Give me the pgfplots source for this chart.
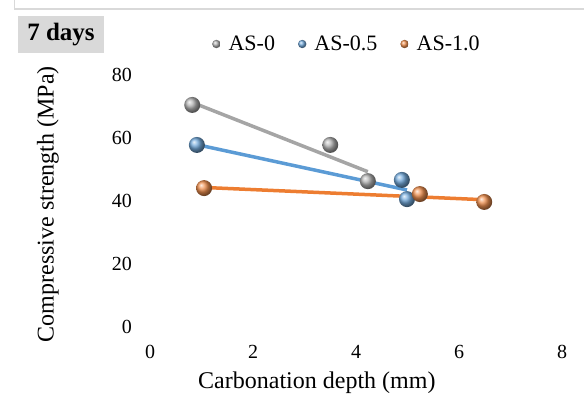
\documentclass[border=0pt]{standalone}
\usepackage{pgfplots}
\pgfplotsset{compat=1.18}
\usepackage{fontspec}
\setmainfont{Liberation Serif}
\definecolor{cgray}{HTML}{A5A5A5}
\definecolor{cblue}{HTML}{5B9BD5}
\definecolor{corange}{HTML}{ED7D31}
\definecolor{frame}{HTML}{D9D9D9}
\begin{document}
\begin{tikzpicture}[x=1bp,y=1bp]
\path[use as bounding box] (0,0) rectangle (584,398);
\draw[frame, line width=1.5bp] (14.5,398) -- (14.5,389) -- (584,389);
\fill[frame] (18,345) rectangle (104,382);
\node[font=\fontsize{25bp}{28bp}\selectfont\bfseries] at (61,363) {7 days};
\begin{axis}[
  at={(150bp,71bp)}, anchor=south west,
  scale only axis, width=412bp, height=252bp,
  xmin=0, xmax=8, ymin=0, ymax=80,
  xtick={0,2,4,6,8}, ytick={0,20,40,60,80},
  axis line style={draw=none}, tick style={draw=none},
  /pgf/number format/assume math mode=true,
  tick label style={font=\fontsize{20bp}{22bp}\selectfont, inner sep=0pt},
  xticklabel style={yshift=-18bp},
  yticklabel style={xshift=-18bp},
  xlabel={Carbonation depth (mm)},
  ylabel={Compressive strength (MPa)},
  label style={font=\fontsize{24bp}{26bp}\selectfont},
  xlabel style={at={(rel axis cs:0.405,-0.222)}, anchor=center},
  ylabel style={at={(rel axis cs:-0.248,0.488)}, anchor=center, rotate=0},
  legend columns=3,
  legend style={draw=none, fill=none, at={(0.478,1.123)}, anchor=center,
    font=\fontsize{22bp}{24bp}\selectfont,
    /tikz/every even column/.append style={column sep=21bp},
    /tikz/every odd column/.append style={column sep=6bp}},
  legend image code/.code={\draw[#1, mark size=4.2bp] plot coordinates {(0cm,0cm)};},
  clip=false,
]
% trend lines
\addplot[cgray, line width=3.5bp, forget plot] coordinates {(0.82,71.3) (4.23,49.3)};
\addplot[cblue, line width=3.5bp, forget plot] coordinates {(0.91,57.9) (4.99,43.5)};
\addplot[corange, line width=3.5bp, forget plot] coordinates {(1.05,44.3) (6.49,40.4)};
% data points
\addplot[only marks, mark=ball, mark size=8bp, ball color=cgray!85!white, draw=none] coordinates {(0.82,70.5) (3.5,57.8) (4.23,46.3)};
\addlegendentry{AS-0}
\addplot[only marks, mark=ball, mark size=8bp, ball color=cblue!85!white, draw=none] coordinates {(0.91,57.8) (4.89,46.7) (4.99,40.6)};
\addlegendentry{AS-0.5}
\addplot[only marks, mark=ball, mark size=8bp, ball color=corange!85!white, draw=none] coordinates {(1.05,44.1) (5.24,42.2) (6.49,39.7)};
\addlegendentry{AS-1.0}
\end{axis}
\end{tikzpicture}
\end{document}
